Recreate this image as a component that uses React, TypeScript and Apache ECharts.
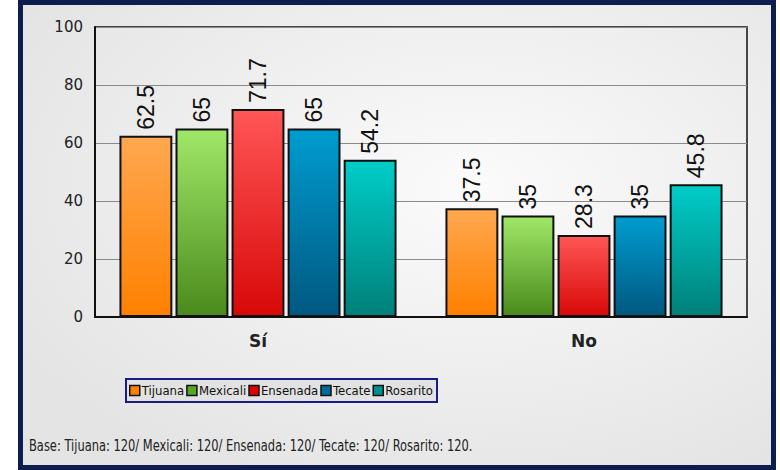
import React, { useEffect, useRef } from "react";
import * as echarts from "echarts";

const categories = ["Sí", "No"];
const seriesNames = ["Tijuana", "Mexicali", "Ensenada", "Tecate", "Rosarito"];
const tijuana = [62.5, 37.5];
const mexicali = [65, 35];
const ensenada = [71.7, 28.3];
const tecate = [65, 35];
const rosarito = [54.2, 45.8];
const yTicks = { min: 0, max: 100, interval: 20 };
const footnote = "Base: Tijuana: 120/ Mexicali: 120/ Ensenada: 120/ Tecate: 120/ Rosarito: 120.";

const topColors = ["#ffa850", "#a0e868", "#ff5656", "#009dd0", "#00cdc8"];
const bottomColors = ["#ff8000", "#4a8a1c", "#d80808", "#005880", "#00807a"];
const legendColors = ["#ff8000", "#55a820", "#e00000", "#006c9c", "#009090"];

const narrow = "'DejaVu Sans Condensed', 'Liberation Sans Narrow', 'Arial Narrow', sans-serif";

export default function App() {
  const ref = useRef<HTMLDivElement>(null);
  useEffect(() => {
    if (!ref.current) return;
    const chart = echarts.init(ref.current, undefined, { renderer: "svg" });
    const values = [tijuana, mexicali, ensenada, tecate, rosarito];
    const series = seriesNames.map((name, i) => ({
      name,
      type: "bar",
      data: values[i],
      barGap: "6%",
      barCategoryGap: "15%",
      itemStyle: {
        color: new echarts.graphic.LinearGradient(0, 0, 0, 1, [
          { offset: 0, color: topColors[i] },
          { offset: 1, color: bottomColors[i] },
        ]),
        borderColor: "#111",
        borderWidth: 2,
      },
      label: {
        show: true,
        position: "top",
        rotate: 90,
        align: "left",
        verticalAlign: "middle",
        distance: 6,
        fontSize: 23,
        fontFamily: "Liberation Sans",
        color: "#111",
      },
    }));
    chart.setOption({
      animation: false,
      graphic: [
        {
          type: "rect",
          z: -10,
          shape: { x: 20.5, y: 2.5, width: 753, height: 465 },
          style: {
            fill: new echarts.graphic.RadialGradient(0.6, 0.4, 0.7, [
              { offset: 0, color: "#fbfbfb" },
              { offset: 1, color: "#e4e4e4" },
            ]),
            stroke: "#0c1d4e",
            lineWidth: 5,
          },
        },
        {
          type: "text",
          x: 29,
          y: 438,
          scaleX: 0.85,
          style: {
            text: footnote,
            fontSize: 15,
            fontFamily: narrow,
            fill: "#222",
          },
        },
      ],
      grid: {
        left: 95,
        right: 33,
        top: 27,
        bottom: 153,
        show: true,
        borderColor: "#111",
        borderWidth: 1.5,
        backgroundColor: "transparent",
      },
      legend: {
        data: seriesNames.map((n, i) => ({
          name: n,
          itemStyle: { color: legendColors[i], borderColor: "#111", borderWidth: 1.5 },
        })),
        left: 126,
        top: 379,
        icon: "rect",
        itemWidth: 10,
        itemHeight: 10,
        itemGap: 2,
        backgroundColor: "#e2e2e2",
        borderColor: "#1a1a8c",
        borderWidth: 2,
        borderRadius: 0,
        padding: [5, 4, 5, 3],
        textStyle: {
          fontSize: 13,
          fontFamily: narrow,
          color: "#111",
          padding: [0, 0, 0, -3],
        },
      },
      xAxis: {
        type: "category",
        data: categories,
        axisLine: { lineStyle: { color: "#111", width: 2 } },
        axisTick: { show: false },
        axisLabel: {
          fontSize: 17,
          fontWeight: "bold",
          fontFamily: "DejaVu Sans",
          color: "#222",
          margin: 15,
        },
      },
      yAxis: {
        type: "value",
        min: yTicks.min,
        max: yTicks.max,
        interval: yTicks.interval,
        axisLine: { show: true, lineStyle: { color: "#111", width: 2 } },
        axisTick: { show: false },
        splitLine: { lineStyle: { color: "#8a8a8a", width: 1 } },
        axisLabel: {
          fontSize: 15,
          fontFamily: "DejaVu Sans",
          color: "#222",
          margin: 12,
        },
      },
      series,
    });
    return () => chart.dispose();
  }, []);
  return (
    <div
      ref={ref}
      style={{ position: "absolute", left: 0, top: 0, width: 780, height: 470 }}
    />
  );
}
